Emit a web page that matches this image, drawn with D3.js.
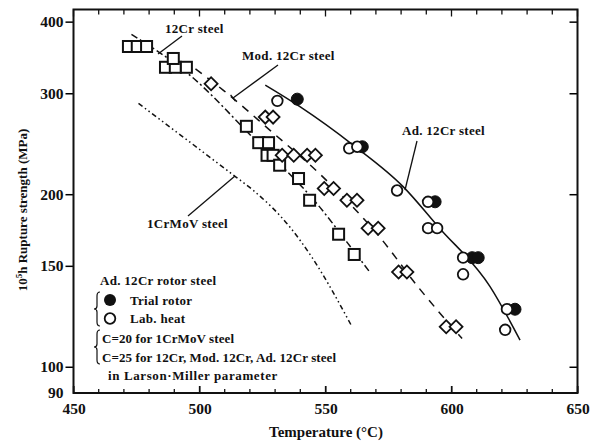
<!DOCTYPE html>
<head>
    <meta charset="UTF-8">
    <title>Rupture strength</title>
    <style>
        body { margin: 0; background: #fff; }
        text { font-family: "Liberation Serif", "DejaVu Serif", serif; font-weight: bold; fill: #111; }
    </style>
</head>
<body>
    <script src="https://d3js.org/d3.v7.min.js"></script>
    <script>
        // -- 資料 (溫度 °C, 強度 MPa) --
        var xTicks = [450, 500, 550, 600, 650]
        var yTicks = [90, 100, 150, 200, 300, 400]

        var sqT = [471.8, 475.3, 479, 486.5, 490.4, 494.8, 489.6, 518.6, 523.5, 527.4, 526.8, 529.2, 531.8, 539.3, 543.7, 555.2, 561.4]
        var sqV = [362, 362, 362, 333, 333, 333, 345, 262.7, 246, 246, 233.8, 233.8, 224.7, 213, 195.2, 170.3, 157]

        var diaT = [504.6, 526.1, 529.2, 532.8, 537.4, 542.7, 546, 549.5, 553.2, 558.5, 562.5, 566.9, 570.9, 579, 582.3, 597.9, 601.8]
        var diaV = [311.8, 272.6, 272.6, 233.8, 233.8, 233.8, 233.8, 204.6, 204.6, 195.2, 195.2, 174.5, 174.5, 146.3, 146.3, 117.4, 117.4]

        var trialT = [538.8, 564.6, 593.5, 608.2, 610.6, 625.2]
        var trialV = [293, 242, 194, 155, 155, 126]

        var labT = [530.9, 559.4, 562.6, 578.4, 590.7, 590.7, 594.3, 604.6, 604.6, 622, 621.3]
        var labV = [291, 240.5, 242, 203, 194, 174.5, 174.5, 155, 145, 126, 116]

        var cr12Line = [[473, 380], [496.4, 322], [520.8, 252], [547.9, 189.5], [558.5, 165], [567.7, 146]]
        var mod12Line = [[498.4, 331], [509.5, 303.5], [528, 258.5], [547.9, 216.6], [571.7, 168], [586.8, 137.7], [604.2, 112]]
        var ad12Line = [[526.1, 310], [540, 284], [561.1, 243.4], [580.9, 206], [594.8, 175.4], [615.3, 138], [627.2, 111.3]]
        var crmovLine = [[475.8, 288], [513.4, 216], [521.4, 203], [536, 175], [544.7, 155], [560.6, 117.3]]

        var width = 596
        var height = 443
        var plot = { left: 73.5, right: 577.5, top: 9.5, bottom: 393 }

        var x = d3.scaleLinear().domain([450, 650]).range([plot.left, plot.right])
        var y = d3.scaleLog().domain([90, 420]).range([plot.bottom, plot.top])

        var svg = d3.select("body").append("svg")
            .attr("width", width)
            .attr("height", height)

        // -- 座標軸 --
        var minor = d3.range(450, 651, 10)
        var gx = svg.append("g").attr("transform", "translate(0," + plot.bottom + ")")
            .call(d3.axisBottom(x).tickValues(xTicks).tickSize(-7).tickPadding(10).tickFormat(d3.format("d")))
        gx.select(".domain").remove()
        gx.selectAll("text").attr("font-size", 15.5)

        svg.append("g").selectAll("line").data(minor).join("line")
            .attr("x1", d => x(d)).attr("x2", d => x(d))
            .attr("y1", plot.bottom).attr("y2", d => plot.bottom - (d % 50 == 0 ? 7 : 4))
            .attr("stroke", "#111").attr("stroke-width", 1.3)
        svg.append("g").selectAll("line").data(minor).join("line")
            .attr("x1", d => x(d)).attr("x2", d => x(d))
            .attr("y1", plot.top).attr("y2", d => plot.top + (d % 50 == 0 ? 7 : 5))
            .attr("stroke", "#111").attr("stroke-width", 1.3)

        var gy = svg.append("g").attr("transform", "translate(" + plot.left + ",0)")
            .call(d3.axisLeft(y).tickValues(yTicks).tickSize(8).tickPadding(2).tickFormat(d3.format("d")))
        gy.select(".domain").remove()
        gy.selectAll("text").attr("font-size", 15.5)
        gy.selectAll(".tick line").attr("stroke-width", 1.5).filter(d => d == 90).remove()

        var gr = svg.append("g").attr("transform", "translate(" + plot.right + ",0)")
            .call(d3.axisRight(y).tickValues([100, 200, 300, 400]).tickSize(-8).tickFormat(""))
        gr.select(".domain").remove()
        gr.selectAll(".tick line").attr("stroke-width", 1.5)

        svg.append("rect")
            .attr("x", plot.left).attr("y", plot.top)
            .attr("width", plot.right - plot.left).attr("height", plot.bottom - plot.top)
            .attr("fill", "none").attr("stroke", "#111").attr("stroke-width", 2)

        svg.append("text").attr("x", 326).attr("y", 437).attr("text-anchor", "middle")
            .attr("font-size", 15).text("Temperature (°C)")
        svg.append("text").attr("transform", "translate(27,210) rotate(-90)").attr("text-anchor", "middle")
            .attr("font-size", 13)
            .html('10<tspan dy="-5" font-size="9">5</tspan><tspan dy="5">h Rupture strength (MPa)</tspan>')

        // -- 曲線 --
        var line = d3.line().x(d => x(d[0])).y(d => y(d[1])).curve(d3.curveMonotoneX)
        function drawLine(data, dash) {
            svg.append("path").datum(data).attr("d", line)
                .attr("fill", "none").attr("stroke", "#111").attr("stroke-width", 1.5)
                .attr("stroke-dasharray", dash)
        }
        drawLine(cr12Line, "7,3,2,3")
        drawLine(mod12Line, "8,7")
        drawLine(ad12Line, null)
        drawLine(crmovLine, "5,3,1.5,3,1.5,3")

        // -- 標記 --
        svg.append("g").selectAll("rect").data(sqT).join("rect")
            .attr("x", d => x(d) - 5.5).attr("y", (d, i) => y(sqV[i]) - 5.5)
            .attr("width", 11).attr("height", 11)
            .attr("fill", "#fff").attr("stroke", "#111").attr("stroke-width", 2)
        svg.append("g").selectAll("rect").data(diaT).join("rect")
            .attr("x", -4.6).attr("y", -4.6).attr("width", 9.2).attr("height", 9.2)
            .attr("transform", (d, i) => "translate(" + x(d) + "," + y(diaV[i]) + ") rotate(45)")
            .attr("fill", "#fff").attr("stroke", "#111").attr("stroke-width", 1.8)
        svg.append("g").selectAll("circle").data(trialT).join("circle")
            .attr("cx", d => x(d)).attr("cy", (d, i) => y(trialV[i])).attr("r", 6)
            .attr("fill", "#111").attr("stroke", "#111")
        svg.append("g").selectAll("circle").data(labT).join("circle")
            .attr("cx", d => x(d)).attr("cy", (d, i) => y(labV[i])).attr("r", 5.3)
            .attr("fill", "#fff").attr("stroke", "#111").attr("stroke-width", 1.8)

        // -- 註解 --
        function seg(x1, y1, x2, y2) {
            svg.append("line").attr("x1", x1).attr("y1", y1).attr("x2", x2).attr("y2", y2)
                .attr("stroke", "#111").attr("stroke-width", 1.3)
        }
        function label(tx, ty, s, ls) {
            svg.append("text").attr("x", tx).attr("y", ty).attr("font-size", 13)
                .attr("letter-spacing", ls || 0.3).text(s)
        }
        label(165, 33, "12Cr steel")
        seg(182, 36, 158, 54)
        label(242, 60, "Mod. 12Cr steel")
        seg(278, 65, 233, 98)
        seg(230.6, 94.8, 235.4, 101.2)
        label(402, 135, "Ad. 12Cr steel")
        seg(417, 141, 405, 190)
        label(147, 228, "1CrMoV steel")
        seg(235, 176, 188, 216)

        // -- 圖例 --
        function brace(bx, top, bottom) {
            var mid = (top + bottom) / 2
            svg.append("path")
                .attr("d", "M" + (bx + 3) + "," + top + " Q" + bx + "," + top + " " + bx + "," + (top + 4) +
                    " L" + bx + "," + (mid - 3) + " Q" + bx + "," + mid + " " + (bx - 3) + "," + mid +
                    " Q" + bx + "," + mid + " " + bx + "," + (mid + 3) +
                    " L" + bx + "," + (bottom - 4) + " Q" + bx + "," + bottom + " " + (bx + 3) + "," + bottom)
                .attr("fill", "none").attr("stroke", "#111").attr("stroke-width", 1.2)
        }
        label(100, 285, "Ad. 12Cr rotor steel")
        brace(97, 292, 326)
        svg.append("circle").attr("cx", 110).attr("cy", 300).attr("r", 6).attr("fill", "#111")
        svg.append("circle").attr("cx", 110).attr("cy", 318.5).attr("r", 5.3)
            .attr("fill", "#fff").attr("stroke", "#111").attr("stroke-width", 1.8)
        label(130, 304.5, "Trial rotor")
        label(130, 323, "Lab. heat")
        brace(97, 330, 364)
        label(102, 343, "C=20 for 1CrMoV steel", 0.1)
        label(102, 361.5, "C=25 for 12Cr, Mod. 12Cr, Ad. 12Cr steel", 0.1)
        label(108, 379.5, "in Larson·Miller parameter", 0.6)
    </script>
</body>
</html>
